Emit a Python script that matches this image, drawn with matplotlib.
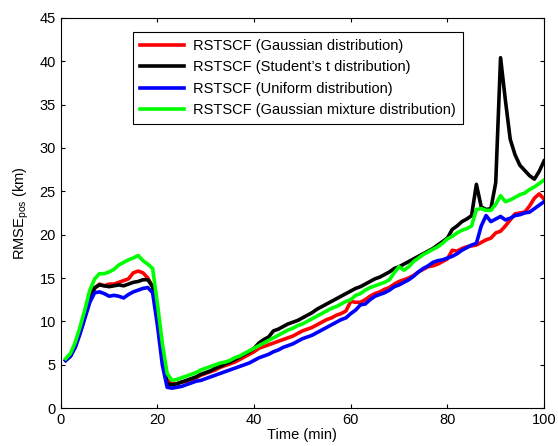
import matplotlib
matplotlib.use('Agg')
import matplotlib.pyplot as plt
import numpy as np

plt.rcParams['font.family'] = ['Liberation Sans', 'DejaVu Sans']
plt.rcParams['mathtext.fontset'] = 'custom'
plt.rcParams['mathtext.rm'] = 'Liberation Sans'
plt.rcParams['mathtext.it'] = 'Liberation Sans'

time = np.arange(1, 101)

gaussian = [5.5, 6.0, 7.2, 8.8, 10.6, 12.4, 13.8, 14.3, 14.1, 14.3,
            14.3, 14.5, 14.7, 14.9, 15.6, 15.8, 15.6, 15.0, 14.0, 10.5,
            6.5, 3.2, 2.8, 2.8, 3.0, 3.1, 3.3, 3.5, 3.8, 4.0,
            4.2, 4.4, 4.7, 4.9, 5.1, 5.3, 5.6, 5.9, 6.2, 6.5,
            6.9, 7.1, 7.3, 7.5, 7.7, 7.9, 8.1, 8.3, 8.6, 8.9,
            9.1, 9.3, 9.6, 9.9, 10.2, 10.4, 10.7, 10.9, 11.2, 12.3,
            12.2, 12.2, 12.5, 12.9, 13.2, 13.4, 13.7, 13.9, 14.3, 14.6,
            14.8, 15.0, 15.3, 15.7, 16.0, 16.3, 16.4, 16.6, 16.9, 17.2,
            18.2, 18.1, 18.4, 18.6, 18.7, 18.8, 19.1, 19.4, 19.6, 20.2,
            20.4, 21.0, 21.7, 22.4, 22.5, 22.6, 23.3, 24.2, 24.7, 24.1]

student_t = [5.5, 6.0, 7.2, 8.8, 10.6, 12.6, 13.9, 14.2, 14.1, 14.0,
             14.1, 14.2, 14.1, 14.3, 14.5, 14.6, 14.8, 14.8, 14.0, 10.5,
             6.0, 2.8, 2.7, 2.8, 3.0, 3.2, 3.4, 3.6, 3.9, 4.1,
             4.3, 4.6, 4.8, 5.1, 5.3, 5.6, 5.9, 6.2, 6.5, 6.9,
             7.5, 7.9, 8.2, 8.9, 9.1, 9.4, 9.7, 9.9, 10.1, 10.4,
             10.7, 11.0, 11.4, 11.7, 12.0, 12.3, 12.6, 12.9, 13.2, 13.5,
             13.8, 14.0, 14.3, 14.6, 14.9, 15.1, 15.4, 15.7, 16.1, 16.3,
             16.6, 16.9, 17.2, 17.5, 17.8, 18.1, 18.4, 18.8, 19.2, 19.6,
             20.6, 21.0, 21.5, 21.8, 22.2, 25.8, 23.2, 22.9, 23.0, 26.0,
             40.4, 35.5, 31.0, 29.2, 28.0, 27.4, 26.8, 26.4, 27.3, 28.5]

uniform = [5.5, 6.0, 7.0, 8.6, 10.4, 12.2, 13.3, 13.4, 13.2, 12.9,
           13.0, 12.9, 12.7, 13.1, 13.4, 13.6, 13.8, 13.9, 13.3, 9.5,
           5.0, 2.4, 2.3, 2.4, 2.5, 2.7, 2.9, 3.1, 3.2, 3.4,
           3.6, 3.8, 4.0, 4.2, 4.4, 4.6, 4.8, 5.0, 5.2, 5.5,
           5.8, 6.0, 6.2, 6.5, 6.7, 7.0, 7.2, 7.4, 7.7, 8.0,
           8.2, 8.4, 8.7, 9.0, 9.3, 9.6, 9.9, 10.2, 10.4, 10.9,
           11.3, 11.9, 12.0, 12.5, 12.9, 13.1, 13.3, 13.6, 14.0, 14.2,
           14.5, 14.8, 15.2, 15.7, 16.1, 16.4, 16.8, 17.0, 17.1, 17.3,
           17.5, 17.8, 18.2, 18.5, 18.8, 19.0, 21.0, 22.2, 21.5, 21.8,
           22.1, 21.7, 21.9, 22.2, 22.3, 22.5, 22.6, 23.0, 23.4, 23.8]

mixture = [5.7, 6.3, 7.6, 9.4, 11.4, 13.6, 14.9, 15.5, 15.5, 15.7,
           16.0, 16.5, 16.8, 17.1, 17.3, 17.6, 17.0, 16.6, 16.1, 12.0,
           7.5, 4.0, 3.2, 3.3, 3.5, 3.7, 3.9, 4.1, 4.4, 4.6,
           4.8, 5.0, 5.2, 5.3, 5.5, 5.8, 6.0, 6.3, 6.6, 6.9,
           7.2, 7.5, 7.8, 8.1, 8.4, 8.7, 9.0, 9.2, 9.5, 9.7,
           10.0, 10.3, 10.6, 10.9, 11.2, 11.5, 11.7, 12.0, 12.3, 12.5,
           13.0, 13.2, 13.6, 13.9, 14.1, 14.3, 14.5, 14.8, 15.6, 16.3,
           15.9, 16.3, 16.9, 17.3, 17.7, 18.0, 18.3, 18.6, 19.0, 19.5,
           19.8, 20.2, 20.5, 20.7, 21.0, 22.9, 23.0, 22.8, 22.8, 23.5,
           24.5, 23.8, 24.0, 24.3, 24.6, 24.8, 25.2, 25.5, 25.9, 26.3]

labels = ['RSTSCF (Gaussian distribution)',
          'RSTSCF (Student\u2019s t distribution)',
          'RSTSCF (Uniform distribution)',
          'RSTSCF (Gaussian mixture distribution)']
colors = ['#ff0000', '#000000', '#0000ff', '#00ff00']

fig = plt.figure(figsize=(5.58, 4.46), dpi=100)
ax = fig.add_axes([0.109, 0.085, 0.866, 0.875])

for series, label, color in zip([gaussian, student_t, uniform, mixture], labels, colors):
    ax.plot(time, series, color=color, linewidth=2.6, label=label)

ax.set_xlim(0, 100)
ax.set_ylim(0, 45)
ax.set_xticks(np.arange(0, 101, 20))
ax.set_yticks(np.arange(0, 46, 5))
ax.tick_params(direction='in', length=3, labelsize=10.5, top=True, right=True,
               labeltop=False, labelright=False)
for s in ax.spines.values():
    s.set_linewidth(0.8)

ax.set_xlabel('Time (min)', fontsize=10.5, labelpad=1)
ax.set_ylabel(r'RMSE$_{\rm pos}$ (km)', fontsize=10.5, labelpad=6)

leg = ax.legend(loc='upper left', bbox_to_anchor=(0.149, 0.964), borderaxespad=0,
                fontsize=10.5, fancybox=False, framealpha=1, edgecolor='black',
                handlelength=3.0, labelspacing=0.5, borderpad=0.5, handletextpad=0.6)
leg.get_frame().set_linewidth(0.8)

fig.savefig('out.png', dpi=100)
